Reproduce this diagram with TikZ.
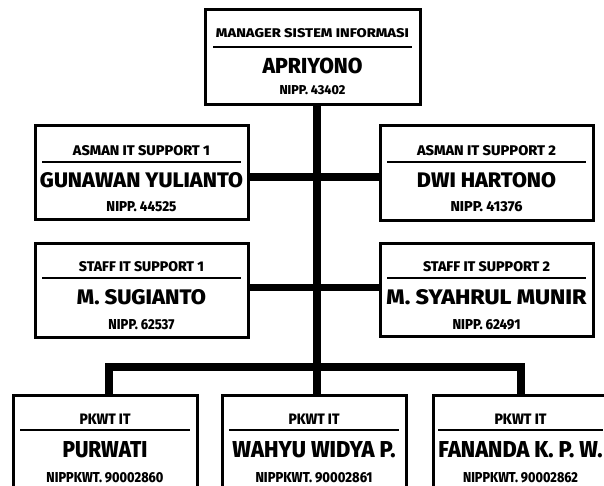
\documentclass[tikz,border=0pt]{standalone}
\usepackage{fontspec}
\setmainfont{Fira Sans}[BoldFont={Fira Sans ExtraBold}]
\usepackage{graphicx}
\newcommand\fitbox[3]{\resizebox{#1pt}{#2pt}{\bfseries #3}}
\begin{document}
\begin{tikzpicture}[x=1pt,y=-1pt,
  box/.style={draw=black, line width=3pt, fill=white, inner sep=0pt, outer sep=0pt},
  txt/.style={inner sep=0pt, outer sep=0pt, text=black},
  sep/.style={draw=black, line width=2pt},
  conn/.style={draw=black, line width=7.5pt, line join=miter}]
\useasboundingbox (0,0) rectangle (604,486);
\clip (0,0) rectangle (604,486);
\fill[white] (0,0) rectangle (604,486);

% coordinates of the tree
\coordinate (bar) at (317,367);
\coordinate (c1) at (317,177);
\coordinate (c2) at (317,287.5);
\coordinate (barL) at (109,367);
\coordinate (barR) at (521,367);

% boxes
\node[box, minimum width=215pt, minimum height=95pt] (mgr) at (312.5,57.5) {};
\node[box, minimum width=213pt, minimum height=93pt] (a1) at (141.5,172.5) {};
\node[box, minimum width=213pt, minimum height=94pt] (a2) at (486.5,173) {};
\node[box, minimum width=213pt, minimum height=94pt] (s1) at (141.5,290) {};
\node[box, minimum width=213pt, minimum height=93pt] (s2) at (486.5,289.5) {};
\node[box, minimum width=184pt, minimum height=110pt] (b1) at (105,450) {};
\node[box, minimum width=184pt, minimum height=110pt] (b2) at (314,450) {};
\node[box, minimum width=175pt, minimum height=110pt] (b3) at (520.5,450) {};

% connectors
\draw[conn] (bar |- mgr.south) -- (bar |- b2.north);
\draw[conn] (a1.east |- c1) -- (c1) -- (a2.west |- c1);
\draw[conn] (s1.east |- c2) -- (c2) -- (s2.west |- c2);
\draw[conn] (barL |- b1.north) -- (barL) -- (barR) -- (barR |- b3.north);

% manager
\node[txt] (mgr-t) at (mgr.center |- 0,33) {\fitbox{193}{9}{MANAGER SISTEM INFORMASI}};
\draw[sep] ([xshift=8pt]mgr.west |- 0,47) -- ([xshift=-8pt]mgr.east |- 0,47);
\node[txt] (mgr-n) at (mgr.center |- 0,66) {\fitbox{100}{15.5}{APRIYONO}};
\node[txt] (mgr-i) at (mgr.center |- 0,90.5) {\fitbox{66}{9}{NIPP. 43402}};

% asman 1
\node[txt] (a1-t) at (a1.center |- 0,151) {\fitbox{137}{10}{ASMAN IT SUPPORT 1}};
\draw[sep] ([xshift=7pt]a1.west |- 0,162) -- ([xshift=-7pt]a1.east |- 0,162);
\node[txt] (a1-n) at (a1.center |- 0,180) {\fitbox{203}{15}{GUNAWAN YULIANTO}};
\node[txt] (a1-i) at (a1.center |- 0,207) {\fitbox{70}{10}{NIPP. 44525}};

% asman 2
\node[txt] (a2-t) at (a2.center |- 0,151) {\fitbox{139}{10}{ASMAN IT SUPPORT 2}};
\draw[sep] ([xshift=7pt]a2.west |- 0,162) -- ([xshift=-7pt]a2.east |- 0,162);
\node[txt] (a2-n) at (a2.center |- 0,180) {\fitbox{139}{15}{DWI HARTONO}};
\node[txt] (a2-i) at (a2.center |- 0,207) {\fitbox{72}{10}{NIPP. 41376}};

% staff 1
\node[txt] (s1-t) at (s1.center |- 0,267) {\fitbox{125}{10}{STAFF IT SUPPORT 1}};
\draw[sep] ([xshift=7pt]s1.west |- 0,278) -- ([xshift=-7pt]s1.east |- 0,278);
\node[txt] (s1-n) at (s1.center |- 0,297) {\fitbox{129}{15}{M. SUGIANTO}};
\node[txt] (s1-i) at (s1.center |- 0,325) {\fitbox{66}{10}{NIPP. 62537}};

% staff 2
\node[txt] (s2-t) at (s2.center |- 0,267) {\fitbox{127}{10}{STAFF IT SUPPORT 2}};
\draw[sep] ([xshift=7pt]s2.west |- 0,278) -- ([xshift=-7pt]s2.east |- 0,278);
\node[txt] (s2-n) at (s2.center |- 0,297) {\fitbox{200}{15}{M. SYAHRUL MUNIR}};
\node[txt] (s2-i) at (s2.center |- 0,325) {\fitbox{68}{10}{NIPP. 62491}};

% pkwt 1
\node[txt] (b1-t) at (b1.center |- 0,419) {\fitbox{51}{10.5}{PKWT IT}};
\draw[sep] ([xshift=7pt]b1.west |- 0,430) -- ([xshift=-7pt]b1.east |- 0,430);
\node[txt] (b1-n) at (b1.center |- 0,450) {\fitbox{85}{16}{PURWATI}};
\node[txt] (b1-i) at (b1.center |- 0,477.5) {\fitbox{117}{10}{NIPPKWT. 90002860}};

% pkwt 2
\node[txt] (b2-t) at (b2.center |- 0,419) {\fitbox{51}{10.5}{PKWT IT}};
\draw[sep] ([xshift=7pt]b2.west |- 0,430) -- ([xshift=-7pt]b2.east |- 0,430);
\node[txt] (b2-n) at (b2.center |- 0,450) {\fitbox{163}{16}{WAHYU WIDYA P.}};
\node[txt] (b2-i) at (b2.center |- 0,477.5) {\fitbox{117}{10}{NIPPKWT. 90002861}};

% pkwt 3
\node[txt] (b3-t) at (b3.center |- 0,419) {\fitbox{52}{10.5}{PKWT IT}};
\draw[sep] ([xshift=5pt]b3.west |- 0,430) -- ([xshift=-5pt]b3.east |- 0,430);
\node[txt] (b3-n) at (b3.center |- 0,450) {\fitbox{164}{16}{FANANDA K. P. W.}};
\node[txt] (b3-i) at (b3.center |- 0,477.5) {\fitbox{115}{10}{NIPPKWT. 90002862}};
\end{tikzpicture}
\end{document}
